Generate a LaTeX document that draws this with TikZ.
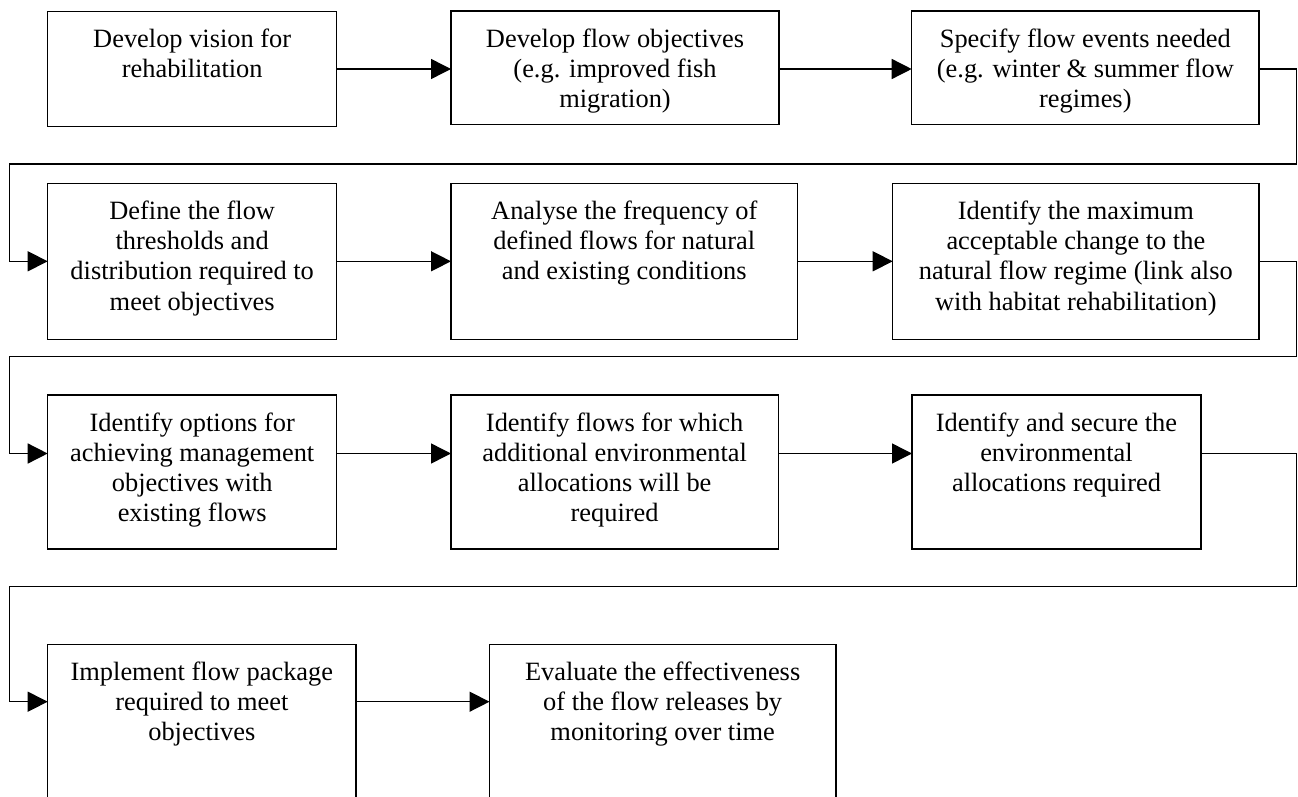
\documentclass[tikz,border=0pt]{standalone}
\usepackage{fontspec}
\setmainfont{Liberation Serif}
\usetikzlibrary{arrows.meta,calc,fit}

\begin{document}
\begin{tikzpicture}[x=0.75pt,y=-0.75pt,
		stage/.style={rectangle,draw=black,line width=1.1pt,inner sep=0pt,outer sep=0pt},
		stagetext/.style={anchor=north,align=center,inner sep=0pt,font=\fontsize{19.8}{22.6}\selectfont},
		flow/.style={draw=black,line width=1.1pt,-{Triangle[length=15pt,width=15pt]}}]
	\path[use as bounding box,clip] (0,0) rectangle (1298,796);
	% the boxes, row by row
	\node[stage, fit={(47.7,11.5) (336.7,126.5)}] (b1) {};
	\node[stage, fit={(451,11) (779,124.5)}] (b2) {};
	\node[stage, fit={(911.7,11) (1259,124.5)}] (b3) {};
	\node[stage, fit={(47.7,183.3) (336.7,339.3)}] (b4) {};
	\node[stage, fit={(451,183.3) (797.5,339.3)}] (b5) {};
	\node[stage, fit={(892.7,183.3) (1259,339.3)}] (b6) {};
	\node[stage, fit={(47.7,395) (336.7,549)}] (b7) {};
	\node[stage, fit={(451,395) (778.3,549)}] (b8) {};
	\node[stage, fit={(912,395) (1201,549)}] (b9) {};
	\node[stage, fit={(47.7,644.3) (356,850)}] (b10) {};
	\node[stage, fit={(489.5,644.3) (835.8,850)}] (b11) {};
	% texts
	\node[stagetext] (t1) at ($(b1.north)+(0,17.5)$) {Develop vision for\\rehabilitation};
	\node[stagetext] (t2) at ($(b2.north)+(0,17.5)$) {Develop flow objectives\\(e.g. improved fish\\migration)};
	\node[stagetext] (t3) at ($(b3.north)+(0,17.5)$) {Specify flow events needed\\(e.g. winter \& summer flow\\regimes)};
	\node[stagetext] (t4) at ($(b4.north)+(0,17.5)$) {Define the flow\\thresholds and\\distribution required to\\meet objectives};
	\node[stagetext] (t5) at ($(b5.north)+(0,17.5)$) {Analyse the frequency of\\defined flows for natural\\and existing conditions};
	\node[stagetext] (t6) at ($(b6.north)+(0,17.5)$) {Identify the maximum\\acceptable change to the\\natural flow regime (link also\\with habitat rehabilitation)};
	\node[stagetext] (t7) at ($(b7.north)+(0,17.5)$) {Identify options for\\achieving management\\objectives with\\existing flows};
	\node[stagetext] (t8) at ($(b8.north)+(0,17.5)$) {Identify flows for which\\additional environmental\\allocations will be\\required};
	\node[stagetext] (t9) at ($(b9.north)+(0,17.5)$) {Identify and secure the\\environmental\\allocations required};
	\node[stagetext] (t10) at ($(b10.north)+(0,17.5)$) {Implement flow package\\required to meet\\objectives};
	\node[stagetext] (t11) at ($(b11.north)+(0,17.5)$) {Evaluate the effectiveness\\of the flow releases by\\monitoring over time};
	% arrow heights and turning points
	\coordinate (r1) at (0,69);
	\coordinate (r2) at (0,261.3);
	\coordinate (r3) at (0,453.5);
	\coordinate (r4) at (0,701.7);
	\coordinate (e1) at (1296.5,164);
	\coordinate (w1) at (9.5,164);
	\coordinate (e2) at (1296.5,356.7);
	\coordinate (w2) at (9.5,356.7);
	\coordinate (e3) at (1296.5,586.7);
	\coordinate (w3) at (9.5,586.7);
	% connectors
	\draw[flow] (b1.east |- r1) -- (b2.west |- r1);
	\draw[flow] (b2.east |- r1) -- (b3.west |- r1);
	\draw[flow] (b3.east |- r1) -| (e1) -- (w1) |- (b4.west |- r2);
	\draw[flow] (b4.east |- r2) -- (b5.west |- r2);
	\draw[flow] (b5.east |- r2) -- (b6.west |- r2);
	\draw[flow] (b6.east |- r2) -| (e2) -- (w2) |- (b7.west |- r3);
	\draw[flow] (b7.east |- r3) -- (b8.west |- r3);
	\draw[flow] (b8.east |- r3) -- (b9.west |- r3);
	\draw[flow] (b9.east |- r3) -| (e3) -- (w3) |- (b10.west |- r4);
	\draw[flow] (b10.east |- r4) -- (b11.west |- r4);
\end{tikzpicture}
\end{document}
